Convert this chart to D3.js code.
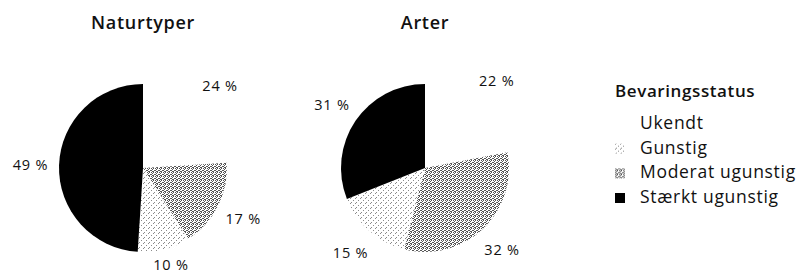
<!DOCTYPE html>
<html>
<head>
<meta charset="utf-8">
<script src="https://cdn.jsdelivr.net/npm/d3@7"></script>
<style>
  body { margin: 0; background: #fff; }
  text { font-family: "Open Sans", "Noto Sans", sans-serif; fill: #111; }
</style>
</head>
<body>
<div id="graph"></div>
<script>
// categories in drawing order (clockwise from 12 o'clock)
var categories = ["Ukendt", "Moderat ugunstig", "Gunstig", "Stærkt ugunstig"];
var legendOrder = ["Ukendt", "Gunstig", "Moderat ugunstig", "Stærkt ugunstig"];
var chartTitles = ["Naturtyper", "Arter"];
var naturtyperValues = [24, 17, 10, 49];
var arterValues = [22, 32, 15, 31];
var legendTitle = "Bevaringsstatus";

document.addEventListener('DOMContentLoaded', function() {
    var w = 805, h = 277;
    var r = 84;

    var svg = d3.select("#graph").append("svg")
        .attr("width", w)
        .attr("height", h);

    var defs = svg.append("defs");

    // light dotted texture (Gunstig)
    var p1 = defs.append("pattern").attr("id", "gunstig")
        .attr("width", 5).attr("height", 5).attr("patternUnits", "userSpaceOnUse");
    p1.append("rect").attr("width", 5).attr("height", 5).attr("fill", "#fff");
    [[0,0],[3,2],[1,4]].forEach(function(d) {
        p1.append("rect").attr("x", d[0]).attr("y", d[1]).attr("width", 1).attr("height", 1).attr("fill", "#8a8a8a");
    });

    // denser dotted texture (Moderat ugunstig)
    var p2 = defs.append("pattern").attr("id", "moderat")
        .attr("width", 4).attr("height", 4).attr("patternUnits", "userSpaceOnUse");
    p2.append("rect").attr("width", 4).attr("height", 4).attr("fill", "#fff");
    [[0,0],[2,0],[1,1],[3,2],[0,2],[2,3],[1,3]].forEach(function(d) {
        p2.append("rect").attr("x", d[0]).attr("y", d[1]).attr("width", 1).attr("height", 1).attr("fill", "#555");
    });

    var color = d3.scaleOrdinal()
        .domain(categories)
        .range(["#ffffff", "url(#moderat)", "url(#gunstig)", "#000000"]);

    var pie = d3.pie().sort(null).value(function(d) { return d.value; });
    var arc = d3.arc().innerRadius(0).outerRadius(r);
    var labelArc = d3.arc().innerRadius(r * 1.34).outerRadius(r * 1.34);

    var xPos = d3.scalePoint().domain(chartTitles).range([143, 425]);
    var cy = 168;

    [naturtyperValues, arterValues].forEach(function(vals, i) {
        var data = categories.map(function(c, j) { return {cat: c, value: vals[j]}; });
        var g = svg.append("g")
            .attr("transform", "translate(" + xPos(chartTitles[i]) + "," + cy + ")");

        g.append("text")
            .attr("x", 0).attr("y", -139)
            .attr("text-anchor", "middle")
            .style("font-size", "18px")
            .style("font-weight", 600)
            .style("letter-spacing", "0.7px")
            .text(chartTitles[i]);

        g.selectAll(".slice")
            .data(pie(data))
            .enter().append("path")
            .attr("class", "slice")
            .attr("d", arc)
            .attr("fill", function(d) { return color(d.data.cat); });

        // labels outside the pie, kept inside the picture at the bottom
        g.selectAll(".lbl")
            .data(pie(data))
            .enter().append("text")
            .attr("class", "lbl")
            .attr("transform", function(d) {
                var c = labelArc.centroid(d);
                return "translate(" + c[0] + "," + Math.min(c[1], h - 12 - cy) + ")";
            })
            .attr("dy", "0.35em")
            .attr("text-anchor", "middle")
            .style("font-size", "14.5px")
            .style("letter-spacing", "0.8px")
            .text(function(d) { return d.data.value + " %"; });
    });

    // legend
    var leg = svg.append("g").attr("transform", "translate(615,0)");
    leg.append("text")
        .attr("x", 0).attr("y", 97)
        .style("font-size", "17px")
        .style("font-weight", 600)
        .style("letter-spacing", "0.6px")
        .text(legendTitle);

    var ly = d3.scaleLinear().domain([0, 3]).range([129, 203]);
    var items = leg.selectAll(".item")
        .data(legendOrder)
        .enter().append("g")
        .attr("class", "item")
        .attr("transform", function(d, i) { return "translate(0," + ly(i) + ")"; });

    items.append("rect")
        .attr("x", 0).attr("y", -10)
        .attr("width", 10).attr("height", 10)
        .attr("fill", function(d) { return color(d); });

    items.append("text")
        .attr("x", 25).attr("y", 0)
        .style("font-size", "17.5px")
        .style("letter-spacing", "0.7px")
        .text(function(d) { return d; });
});
</script>
</body>
</html>
